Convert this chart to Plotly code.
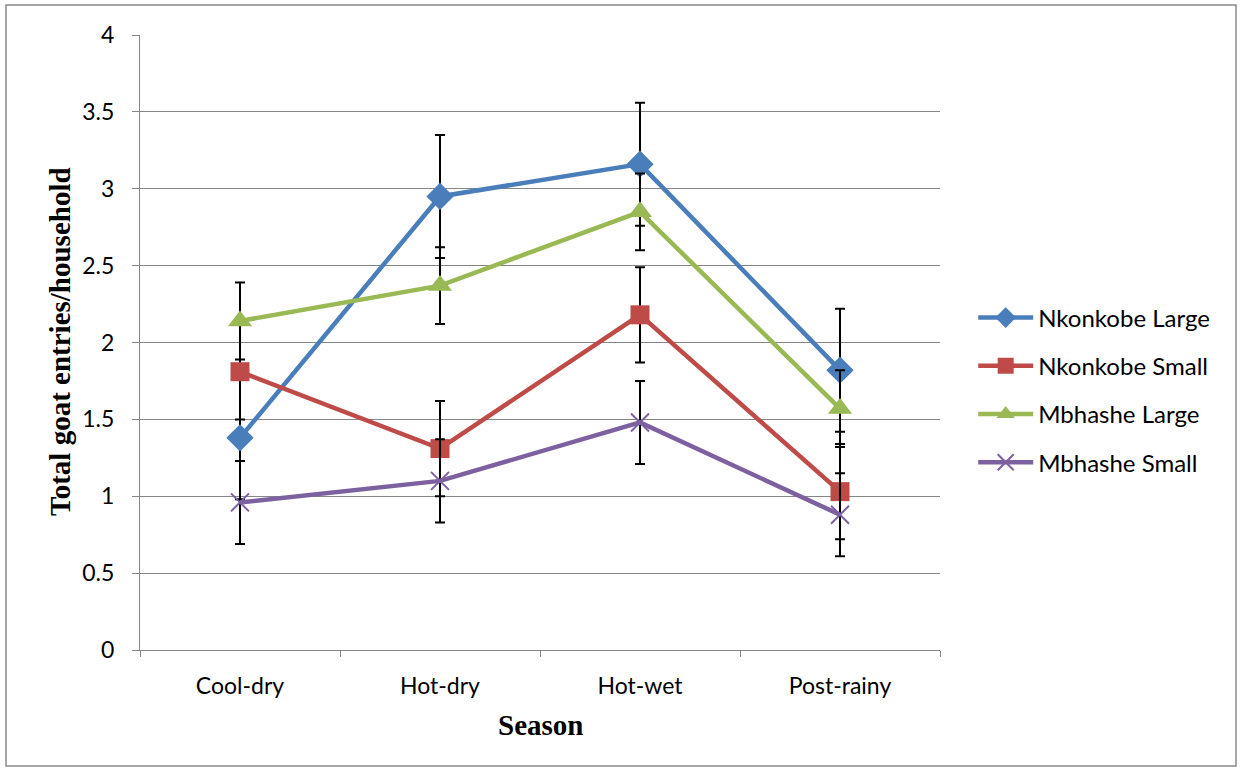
import plotly.graph_objects as go

seasons = ["Cool-dry", "Hot-dry", "Hot-wet", "Post-rainy"]
nkonkobe_large = [1.38, 2.95, 3.16, 1.82]
nkonkobe_small = [1.81, 1.31, 2.18, 1.03]
mbhashe_large = [2.14, 2.37, 2.85, 1.57]
mbhashe_small = [0.96, 1.10, 1.48, 0.88]
err_nl = [0.40, 0.40, 0.40, 0.40]
err_ns = [0.31, 0.31, 0.31, 0.31]
err_ml = [0.25, 0.25, 0.25, 0.25]
err_ms = [0.27, 0.27, 0.27, 0.27]
y_ticks = [0, 0.5, 1, 1.5, 2, 2.5, 3, 3.5, 4]
y_tick_text = ["0", "0.5", "1", "1.5", "2", "2.5", "3", "3.5", "4"]

series = [
    ("Nkonkobe Large", nkonkobe_large, err_nl, "#4A7EBB", "diamond", 21),
    ("Nkonkobe Small", nkonkobe_small, err_ns, "#BE4B48", "square", 19),
    ("Mbhashe Large", mbhashe_large, err_ml, "#98B954", "triangle-up", 21),
    ("Mbhashe Small", mbhashe_small, err_ms, "#7D60A0", "x-thin", 18),
]

fig = go.Figure()
for i, (name, vals, errs, color, sym, size) in enumerate(series):
    marker = dict(symbol=sym, size=size, color=color)
    if sym == "x-thin":
        marker["line"] = dict(color=color, width=2)
    fig.add_trace(go.Scatter(
        x=seasons, y=vals, name=name, mode="lines+markers",
        line=dict(color=color, width=4.5),
        marker=marker,
        legendgroup=f"g{i}",
        error_y=dict(type="data", array=errs, visible=True,
                     color="black", thickness=2, width=5),
    ))

fig.update_layout(
    width=1241, height=771,
    margin=dict(l=140, r=301, t=35, b=121),
    paper_bgcolor="white", plot_bgcolor="white",
    font=dict(family="Lato, Open Sans, sans-serif", size=23, color="black"),
    legend=dict(x=1.0415, y=(650 - 390) / 615, xanchor="left", yanchor="middle",
                font=dict(size=24), tracegroupgap=14, itemwidth=55,
                bgcolor="rgba(0,0,0,0)"),
    showlegend=True,
)
fig.update_xaxes(
    type="category", range=[-0.5, 3.5],
    showline=True, linecolor="#868686", linewidth=1,
    ticks="outside", ticklen=6, tickcolor="#868686",
    tickson="boundaries", showgrid=False,
    ticklabelstandoff=15, tickfont=dict(size=23),
)
fig.update_yaxes(
    range=[0, 4], tickvals=y_ticks, ticktext=y_tick_text,
    showline=True, linecolor="#868686", linewidth=1,
    ticks="outside", ticklen=7, tickcolor="#868686",
    showgrid=True, gridcolor="#868686", gridwidth=1,
    zeroline=False, ticklabelstandoff=13, tickfont=dict(size=23),
)
fig.add_annotation(
    text="<b>Season</b>", xref="paper", yref="paper",
    x=0.5, y=(650 - 725) / 615, showarrow=False, xanchor="center", yanchor="middle",
    font=dict(family="Liberation Serif, Times New Roman, serif", size=29, color="black"),
)
fig.add_annotation(
    text="<b>Total goat entries/household</b>", xref="paper", yref="paper",
    x=(60 - 140) / 800, y=(650 - 342) / 615, showarrow=False, textangle=-90,
    xanchor="center", yanchor="middle",
    font=dict(family="Liberation Serif, Times New Roman, serif", size=29, color="black"),
)
fig.add_shape(
    type="rect", xref="paper", yref="paper",
    x0=(6 - 140) / 800, x1=(1236 - 140) / 800,
    y0=(650 - 766) / 615, y1=(650 - 5) / 615,
    line=dict(color="#898989", width=1.5), fillcolor="rgba(0,0,0,0)", layer="below",
)
fig.write_html("out.html", config={"displayModeBar": False},
               post_script="document.body.style.margin='0';document.body.style.overflow='hidden';")
